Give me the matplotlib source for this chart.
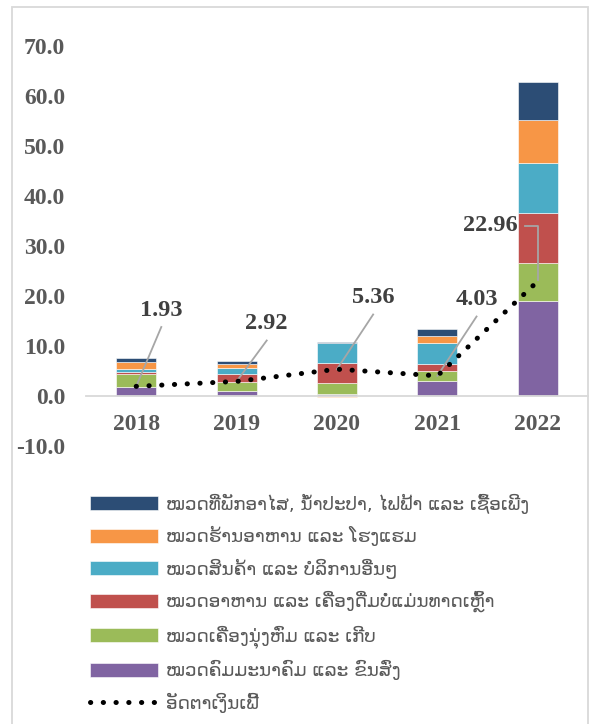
import matplotlib
matplotlib.use("Agg")
from matplotlib import pyplot as plt
from matplotlib.patches import Rectangle
import numpy as np

# categories (years)
years = ["2018", "2019", "2020", "2021", "2022"]

# stacked contributions, bottom to top
food_nonalc = [1.8, 1.0, 0.5, 3.0, 19.1]        # purple
clothing = [2.6, 1.8, 2.1, 2.0, 7.5]            # green
food_drink = [0.5, 1.7, 4.1, 1.5, 10.1]         # red
goods_services = [0.6, 1.2, 3.9, 4.1, 9.9]      # cyan
restaurants = [1.3, 0.8, -0.2, 1.4, 8.6]        # orange
housing = [0.9, 0.5, 0.15, 1.5, 7.6]            # navy

# inflation rate line
inflation = [1.93, 2.92, 5.36, 4.03, 22.96]

labels = [
    "ໝວດທີ່ພັກອາໄສ, ນ້ຳປະປາ, ໄຟຟ້າ ແລະ ເຊື້ອເພີງ",
    "ໝວດຮ້ານອາຫານ ແລະ ໂຮງແຮມ",
    "ໝວດສິນຄ້າ ແລະ ບໍລິການອື່ນໆ",
    "ໝວດອາຫານ ແລະ ເຄື່ອງດື່ມບໍ່ແມ່ນທາດເຫຼົ້າ",
    "ໝວດເຄື່ອງນຸ່ງຫົ່ມ ແລະ ເກີບ",
    "ໝວດຄົມມະນາຄົມ ແລະ ຂົນສົ່ງ",
    "ອັດຕາເງິນເຟີ້",
]
colors = ["#2C4D75", "#F79646", "#4BACC6", "#C0504D", "#9BBB59", "#8064A2"]

fig = plt.figure(figsize=(5.93, 7.24), dpi=100)
ax = fig.add_axes([86 / 593, 1 - 446 / 724, 502 / 593, 400 / 724])

x = np.arange(len(years))
series = [food_nonalc, clothing, food_drink, goods_services, restaurants, housing]
series_colors = colors[:6][::-1]
series_labels = labels[:6][::-1]
pos_base = np.zeros(len(years))
neg_base = np.zeros(len(years))
handles = []
for vals, c, lab in zip(series, series_colors, series_labels):
    vals = np.array(vals)
    bottoms = np.where(vals >= 0, pos_base, neg_base)
    b = ax.bar(x, vals, 0.4, bottom=bottoms, color=c, edgecolor="white",
               linewidth=0.4, label=lab, zorder=2)
    handles.append(b)
    pos_base = pos_base + np.clip(vals, 0, None)
    neg_base = neg_base + np.clip(vals, None, 0)

line, = ax.plot(x, inflation, color="black", linewidth=3.6,
                linestyle=(0, (0.05, 2.5)), dash_capstyle="round",
                label=labels[6], zorder=4)

# data labels with leader lines
lab_pos = [(0.25, 17.2), (1.3, 14.5), (2.36, 19.7), (3.39, 19.3), (3.53, 34.1)]
for i, (lx, ly) in enumerate(lab_pos):
    ax.text(lx, ly, f"{inflation[i]:.2f}", ha="center", va="center",
            fontsize=17.5, fontweight="bold", family="Liberation Serif",
            color="#404040", zorder=5)
    if i < 4:
        ax.plot([lx, x[i]], [ly - 3.4, inflation[i]], color="#A6A6A6",
                linewidth=1.3, zorder=3)
    else:
        ax.plot([3.87, 4.0, 4.0], [ly, ly, inflation[i] + 0.3],
                color="#A6A6A6", linewidth=1.3, zorder=3)

ax.set_xlim(-0.5, 4.5)
ax.set_ylim(-10, 70)
ax.set_yticks(np.arange(-10, 71, 10))
ax.set_yticklabels([f"{v:.1f}" for v in np.arange(-10, 71, 10)])
ax.set_xticks(x)
ax.set_xticklabels(years)
for s in ["top", "right", "left"]:
    ax.spines[s].set_visible(False)
ax.spines["bottom"].set_position(("data", 0))
ax.spines["bottom"].set_color("#D9D9D9")
ax.spines["bottom"].set_linewidth(1.3)
ax.tick_params(axis="both", length=0, labelcolor="#595959")
ax.tick_params(axis="y", pad=15)
ax.tick_params(axis="x", pad=13)
for t in ax.get_xticklabels() + ax.get_yticklabels():
    t.set_fontfamily("Liberation Serif")
    t.set_fontweight("bold")
    t.set_fontsize(17)

# chart border
fig.patches.append(Rectangle((12 / 593, -0.01), 576 / 593, 1 - 7 / 724 + 0.01,
                             transform=fig.transFigure, fill=False,
                             edgecolor="#D9D9D9", linewidth=1.3))

leg = fig.legend(handles[::-1] + [line], labels, loc="upper left",
                 bbox_to_anchor=(83 / 593, 1 - 486 / 724), frameon=False,
                 prop={"family": "DejaVu Sans", "size": 13.2},
                 handlelength=3.7, handleheight=0.78, labelspacing=0.68,
                 handletextpad=0.45, borderaxespad=0)
for t in leg.get_texts():
    t.set_color("#595959")

fig.savefig("out.png", dpi=100)
